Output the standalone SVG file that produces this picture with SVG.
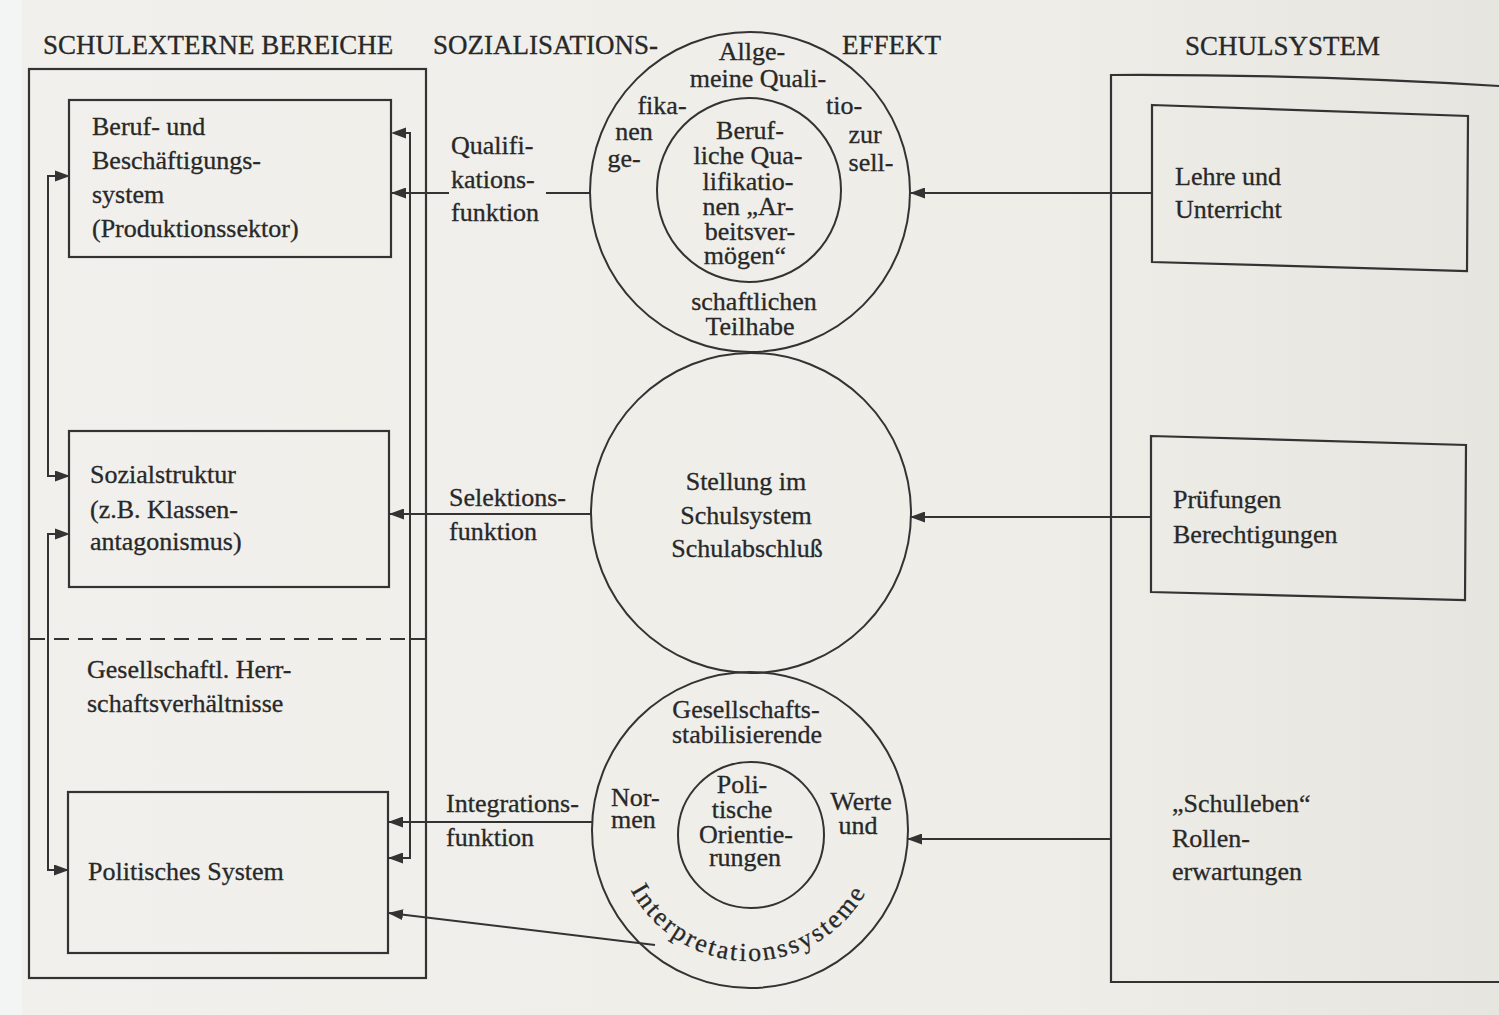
<svg xmlns="http://www.w3.org/2000/svg" width="1499" height="1015" viewBox="0 0 1499 1015">
<defs>
<linearGradient id="paper" x1="0" y1="0" x2="1" y2="0">
<stop offset="0" stop-color="#f1f0ec"/>
<stop offset="0.7" stop-color="#eeede8"/>
<stop offset="1" stop-color="#e6e5e0"/>
</linearGradient>
<marker id="ah" viewBox="0 0 15 11" markerWidth="15" markerHeight="11" refX="14" refY="5.5" orient="auto" markerUnits="userSpaceOnUse">
<path d="M0,0 L15,5.5 L0,11 z" fill="#333"/>
</marker>
<path id="arcInt" d="M630.7,889.9 A134,134 0 0 0 867.3,889.9"/>
</defs>
<style>
text{font-family:"Liberation Serif","Times New Roman",serif;font-size:26px;fill:#282828;stroke:#282828;stroke-width:0.3px;}
.hd{font-size:27px;}
.c{text-anchor:middle;}
.ln{fill:none;stroke:#333;stroke-width:2;}
.bx{fill:none;stroke:#333;stroke-width:2.2;}
.ah{fill:#333;}
</style>
<rect x="0" y="0" width="1499" height="1015" fill="url(#paper)"/>
<rect x="0" y="0" width="22" height="1015" fill="#f3f4f4"/>

<g id="headers">
<text class="hd" x="43" y="54">SCHULEXTERNE BEREICHE</text>
<text class="hd" x="433" y="54">SOZIALISATIONS-</text>
<text class="hd" x="842" y="54">EFFEKT</text>
<text class="hd" x="1185" y="55">SCHULSYSTEM</text>
</g>

<g id="schulexterne-bereiche">
<rect class="bx" x="29" y="69" width="397" height="909"/>
<line class="ln" x1="30" y1="639" x2="410" y2="639" stroke-dasharray="15 9"/>
<line class="ln" x1="410" y1="639" x2="426" y2="639"/>
</g>

<g id="beruf">
<rect class="bx" x="69" y="100" width="322" height="157"/>
<text x="92" y="135">Beruf- und</text>
<text x="92" y="169">Beschäftigungs-</text>
<text x="92" y="203">system</text>
<text x="92" y="237">(Produktionssektor)</text>
</g>

<g id="sozialstruktur">
<rect class="bx" x="69" y="431" width="320" height="156"/>
<text x="90" y="483">Sozialstruktur</text>
<text x="90" y="518">(z.B. Klassen-</text>
<text x="90" y="550">antagonismus)</text>
</g>

<g id="herrschaft">
<text x="87" y="678">Gesellschaftl. Herr-</text>
<text x="87" y="712">schaftsverhältnisse</text>
</g>

<g id="politik">
<rect class="bx" x="68" y="792" width="320" height="161"/>
<text x="88" y="880">Politisches System</text>
</g>

<g id="funktionen">
<text x="451" y="154">Qualifi-</text>
<text x="451" y="188">kations-</text>
<text x="451" y="221">funktion</text>
<text x="449" y="506">Selektions-</text>
<text x="449" y="540">funktion</text>
<text x="446" y="812">Integrations-</text>
<text x="446" y="846">funktion</text>
</g>

<g id="effekt-qualifikation">
<circle class="ln" cx="750" cy="192" r="160"/>
<circle class="ln" cx="749" cy="190" r="92"/>
<text class="c" x="752" y="60">Allge-</text>
<text class="c" x="758" y="87">meine Quali-</text>
<text class="c" x="662" y="114">fika-</text>
<text class="c" x="844" y="114">tio-</text>
<text class="c" x="634" y="140">nen</text>
<text class="c" x="865" y="143">zur</text>
<text class="c" x="624" y="167">ge-</text>
<text class="c" x="871" y="171">sell-</text>
<text class="c" x="750" y="139">Beruf-</text>
<text class="c" x="748" y="164">liche Qua-</text>
<text class="c" x="748" y="190">lifikatio-</text>
<text class="c" x="748" y="215">nen „Ar-</text>
<text class="c" x="750" y="240">beitsver-</text>
<text class="c" x="745" y="264">mögen“</text>
<text class="c" x="754" y="310">schaftlichen</text>
<text class="c" x="750" y="335">Teilhabe</text>
</g>

<g id="effekt-selektion">
<circle class="ln" cx="751" cy="513" r="160"/>
<text class="c" x="746" y="490">Stellung im</text>
<text class="c" x="746" y="524">Schulsystem</text>
<text class="c" x="747" y="557">Schulabschluß</text>
</g>

<g id="effekt-integration">
<circle class="ln" cx="750" cy="830" r="158"/>
<circle class="ln" cx="751" cy="835" r="73"/>
<text class="c" x="746" y="718">Gesellschafts-</text>
<text class="c" x="747" y="743">stabilisierende</text>
<text x="611" y="806">Nor-</text>
<text x="611" y="828">men</text>
<text class="c" x="861" y="810">Werte</text>
<text class="c" x="858" y="834">und</text>
<text class="c" x="742" y="793">Poli-</text>
<text class="c" x="742" y="818">tische</text>
<text class="c" x="746" y="843">Orientie-</text>
<text class="c" x="745" y="866">rungen</text>
<text style="letter-spacing:2.4px"><textPath href="#arcInt">Interpretationssysteme</textPath></text>
</g>

<g id="schulsystem">
<path class="bx" d="M1499,86 Q1300,74 1111,75 L1111,982 L1499,982"/>
</g>

<g id="lehre">
<polygon class="bx" points="1152,105 1468,116 1467,271 1152,262"/>
<text x="1175" y="185">Lehre und</text>
<text x="1175" y="218">Unterricht</text>
</g>

<g id="pruefungen">
<polygon class="bx" points="1151,436 1466,445 1465,600 1151,592"/>
<text x="1173" y="508">Prüfungen</text>
<text x="1173" y="543">Berechtigungen</text>
</g>

<g id="schulleben">
<text x="1172" y="812">„Schulleben“</text>
<text x="1172" y="847">Rollen-</text>
<text x="1172" y="880">erwartungen</text>
</g>

<g id="connectors">
<line class="ln" x1="1152" y1="193" x2="911" y2="193" marker-end="url(#ah)"/>
<line class="ln" x1="1151" y1="517" x2="911" y2="517" marker-end="url(#ah)"/>
<line class="ln" x1="1111" y1="839" x2="908" y2="839" marker-end="url(#ah)"/>
<line class="ln" x1="590" y1="193" x2="546" y2="193"/>
<line class="ln" x1="449" y1="193" x2="392" y2="193" marker-end="url(#ah)"/>
<line class="ln" x1="592" y1="514" x2="390" y2="514" marker-end="url(#ah)"/>
<line class="ln" x1="592" y1="822" x2="389" y2="822" marker-end="url(#ah)"/>
<line class="ln" x1="655" y1="945" x2="389" y2="913" marker-end="url(#ah)"/>
<polyline class="ln" points="405,133 410,133 410,858 389,858" marker-end="url(#ah)"/>
<polyline class="ln" points="56,176 48,176 48,476 69,476" marker-end="url(#ah)"/>
<polyline class="ln" points="56,534 48,534 48,870 68,870" marker-end="url(#ah)"/>
<path class="ah" d="M391,133 L406,127.5 L406,138.5 z"/>
<path class="ah" d="M70,176 L55,170.5 L55,181.5 z"/>
<path class="ah" d="M70,534 L55,528.5 L55,539.5 z"/>
</g>
</svg>
